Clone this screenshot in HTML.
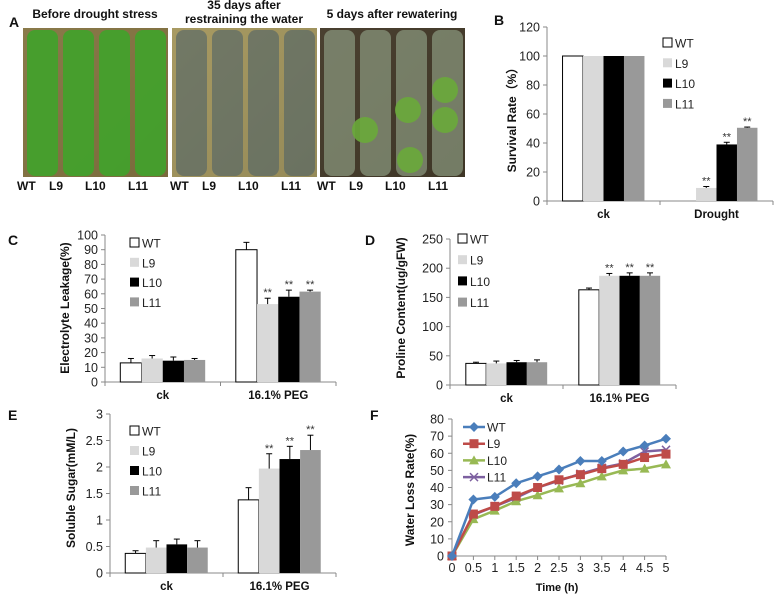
<!DOCTYPE html>
<html><head><meta charset="utf-8"><style>
body{margin:0;background:#fff;}
svg{display:block;font-family:"Liberation Sans",Arial,sans-serif;}
</style></head><body>
<svg id="fig" width="777" height="597" viewBox="0 0 777 597">
<defs>
<linearGradient id="p1" x1="0" y1="0" x2="1" y2="1"><stop offset="0" stop-color="#8a7a4a"/><stop offset="1" stop-color="#7a6a3c"/></linearGradient>
<linearGradient id="p2" x1="0" y1="0" x2="1" y2="1"><stop offset="0" stop-color="#a89a62"/><stop offset="1" stop-color="#958a58"/></linearGradient>
<linearGradient id="p3" x1="0" y1="0" x2="1" y2="1"><stop offset="0" stop-color="#4a4030"/><stop offset="1" stop-color="#3e3626"/></linearGradient>
</defs>
<g id="panelA"></g>
<g id="panelB"></g>
<g id="panelC"></g>
<g id="panelD"></g>
<g id="panelE"></g>
<g id="panelF"></g>
</svg>
<script>
const lines=["WT","L9","L10","L11"];
const barColors=["#ffffff","#d9d9d9","#000000","#999999"];
// B
const bCats=["ck","Drought"];
const bVals=[[100,100,100,100],[0,9,39,50.5]];
const bErr=[[0,0,0,0],[0,1,1.5,0.5]];
const bSig=[[false,false,false,false],[false,true,true,true]];
const bTicks=[0,20,40,60,80,100,120];
// C
const cCats=["ck","16.1% PEG"];
const cVals=[[13,16,14.5,15],[90,53,58,61.5]];
const cErr=[[3,2,2.5,1],[5,4,4.5,1]];
const cSig=[[false,false,false,false],[false,true,true,true]];
const cTicks=[0,10,20,30,40,50,60,70,80,90,100];
// D
const dCats=["ck","16.1% PEG"];
const dVals=[[37,37,39,39],[163,187,187,187]];
const dErr=[[2,4,3,4],[3,4,5,5]];
const dSig=[[false,false,false,false],[false,true,true,true]];
const dTicks=[0,50,100,150,200,250];
// E
const eCats=["ck","16.1% PEG"];
const eVals=[[0.37,0.48,0.54,0.48],[1.38,1.97,2.15,2.32]];
const eErr=[[0.05,0.13,0.1,0.13],[0.23,0.28,0.24,0.28]];
const eSig=[[false,false,false,false],[false,true,true,true]];
const eTicks=[0,0.5,1,1.5,2,2.5,3];
const eTickLabels=["0","0.5","1","1.5","2","2.5","3"];
// F
const fTimes=[0,0.5,1,1.5,2,2.5,3,3.5,4,4.5,5];
const fWT=[0,33,34.5,42.5,46.5,50.5,55.5,55.5,61,64.5,68.5];
const fL9=[0,24.5,29,35,40,44.5,47.5,51,53.5,57.5,59.5];
const fL10=[0,21.5,26.5,32,35.5,39.5,42.5,46.5,50,51,53.5];
const fL11=[0,24,29,34,40,44,48,51.5,54,61,62];
const fTicks=[0,10,20,30,40,50,60,70,80];

const NS="http://www.w3.org/2000/svg";
function mk(parent,tag,attrs,text){const e=document.createElementNS(NS,tag);for(const k in attrs)e.setAttribute(k,attrs[k]);if(text!==undefined)e.textContent=text;parent.appendChild(e);return e;}

function barChart(g,o){
  const ys=v=>o.y0-(v-o.min)/(o.max-o.min)*(o.y0-o.y1);
  const catW=(o.x1-o.x0)/o.cats.length;
  const xc=i=>o.x0+catW*(i+0.5);
  const ax=mk(g,'line',{x1:o.x0,y1:o.y0,x2:o.x0,y2:o.y1,stroke:'#888','stroke-width':1});
  
  const bx=mk(g,'line',{x1:o.x0,y1:o.y0,x2:o.x1,y2:o.y0,stroke:'#888','stroke-width':1});
  
  for(let i=0;i<=o.cats.length;i++){const t=mk(g,'line',{x1:o.x0+catW*i,y1:o.y0,x2:o.x0+catW*i,y2:o.y0+4,stroke:'#888'});}
  o.ticks.forEach((v,i)=>{
    mk(g,'line',{x1:o.x0-4,y1:ys(v),x2:o.x0,y2:ys(v),stroke:'#888'});
    const t=mk(g,'text',{x:o.x0-7,y:ys(v)+4.5,'text-anchor':'end','font-size':12.5,fill:'#222'},o.tickLabels?o.tickLabels[i]:String(v));
    
  });
  const bw=catW*o.frac/4;
  o.cats.forEach((c,ci)=>{
    const l=mk(g,'text',{x:xc(ci),y:o.y0+o.catDy,'text-anchor':'middle','font-size':11.5,'font-weight':'bold',fill:'#111'},c);
    
    for(let s=0;s<4;s++){
      const v=o.vals[ci][s];const x=xc(ci)-2*bw+s*bw;
      if(v<=0)continue;
      const r=mk(g,'rect',{x:x,y:ys(v),width:bw,height:o.y0-ys(v),fill:barColors[s],stroke:s==0?'#000':'none','stroke-width':1});
      
      const e=o.err[ci][s];const ex=x+bw/2;
      if(e>0){mk(g,'line',{x1:ex,y1:ys(v),x2:ex,y2:ys(v+e),stroke:'#000'});mk(g,'line',{x1:ex-3,y1:ys(v+e),x2:ex+3,y2:ys(v+e),stroke:'#000'});}
      if(o.sig[ci][s]){const st=mk(g,'text',{x:ex,y:ys(v+e)-2,'text-anchor':'middle','font-size':11,fill:'#333'},'**');}
    }
  });
  lines.forEach((n,i)=>{
    const y=o.legY+i*o.legStep;
    const r=mk(g,'rect',{x:o.legX,y:y-5,width:9,height:9,fill:barColors[i],stroke:i==0?'#000':'none'});
    
    const t=mk(g,'text',{x:o.legX+12,y:y+4.5,'font-size':12,fill:'#222'},n);
    
  });
  const yl=mk(g,'text',{x:o.ylx,y:o.yly,'text-anchor':'middle','font-size':12,'font-weight':'bold',fill:'#111',transform:`rotate(-90 ${o.ylx} ${o.yly})`},o.ylabel);
  
  const pl=mk(g,'text',{x:o.px,y:o.py,'font-size':14,'font-weight':'bold',fill:'#111'},o.letter);
  
}

barChart(document.getElementById('panelB'),{x0:547,x1:773,y0:201,y1:27,min:0,max:120,cats:bCats,vals:bVals,err:bErr,sig:bSig,ticks:bTicks,frac:0.725,catDy:17,legX:663,legY:43,legStep:20.3,ylx:516,yly:117,ylabel:"Survival Rate（%）",px:494,py:25,letter:"B"});
barChart(document.getElementById('panelC'),{x0:105,x1:336,y0:382,y1:235,min:0,max:100,cats:cCats,vals:cVals,err:cErr,sig:cSig,ticks:cTicks,frac:0.735,catDy:17,legX:130,legY:243,legStep:19.8,ylx:69,yly:308,ylabel:"Electrolyte Leakage(%)",px:8,py:245,letter:"C"});
barChart(document.getElementById('panelD'),{x0:450,x1:676,y0:385,y1:239,min:0,max:250,cats:dCats,vals:dVals,err:dErr,sig:dSig,ticks:dTicks,frac:0.72,catDy:17,legX:458,legY:239,legStep:21.2,ylx:405,yly:308,ylabel:"Proline Content(ug/gFW)",px:365,py:245,letter:"D"});
barChart(document.getElementById('panelE'),{x0:110,x1:336,y0:573,y1:414,min:0,max:3,cats:eCats,vals:eVals,err:eErr,sig:eSig,ticks:eTicks,tickLabels:eTickLabels,frac:0.73,catDy:17,legX:130,legY:431,legStep:20,ylx:75,yly:488,ylabel:"Soluble Sugar(mM/L)",px:8,py:420,letter:"E"});

// Panel F
(function(){
  const g=document.getElementById('panelF');
  const x0=452,x5=666,y0=556,y80=419;
  const xs=t=>x0+t/5*(x5-x0);
  const ys=v=>y0-v/80*(y0-y80);
  mk(g,'line',{x1:x0,y1:y0,x2:x0,y2:y80,stroke:'#888'});
  mk(g,'line',{x1:x0,y1:y0,x2:x5,y2:y0,stroke:'#888'});
  fTicks.forEach(v=>{mk(g,'line',{x1:x0-4,y1:ys(v),x2:x0,y2:ys(v),stroke:'#888'});const t=mk(g,'text',{x:x0-8,y:ys(v)+4.5,'text-anchor':'end','font-size':12.5,fill:'#222'},String(v));});
  fTimes.forEach(v=>{mk(g,'line',{x1:xs(v),y1:y0,x2:xs(v),y2:y0+4,stroke:'#888'});const t=mk(g,'text',{x:xs(v),y:y0+16,'text-anchor':'middle','font-size':12.5,fill:'#222'},String(v));});
  const series=[[fWT,'#4a7ebb','diamond','WT'],[fL9,'#be4b48','square','L9'],[fL10,'#98b954','triangle','L10'],[fL11,'#7d60a0','x','L11']];
  function marker(p,x,y,type,col){
    let m;
    if(type=='diamond')m=mk(p,'polygon',{points:`${x},${y-5} ${x+5},${y} ${x},${y+5} ${x-5},${y}`,fill:col});
    else if(type=='square')m=mk(p,'rect',{x:x-4.5,y:y-4.5,width:9,height:9,fill:col});
    else if(type=='triangle')m=mk(p,'polygon',{points:`${x},${y-5} ${x+5},${y+4} ${x-5},${y+4}`,fill:col});
    else {m=mk(p,'path',{d:`M${x-4},${y-4}L${x+4},${y+4}M${x-4},${y+4}L${x+4},${y-4}`,stroke:col,'stroke-width':1.5});}
    return m;
  }
  series.slice().reverse().forEach(([d,col,type,name])=>{
    const pts=fTimes.map((t,i)=>xs(t)+','+ys(d[i])).join(' ');
    const pl=mk(g,'polyline',{points:pts,fill:'none',stroke:col,'stroke-width':2.5});
    
    fTimes.forEach((t,i)=>{const m=marker(g,xs(t),ys(d[i]),type,col);});
  });
  series.forEach(([d,col,type,name],i)=>{
    const y=427+i*16.7;
    mk(g,'line',{x1:463,y1:y,x2:485,y2:y,stroke:col,'stroke-width':2.5});
    marker(g,474,y,type,col);
    const t=mk(g,'text',{x:487,y:y+4.5,'font-size':12,fill:'#222'},name);
    
  });
  const yl=mk(g,'text',{x:414,y:490,'text-anchor':'middle','font-size':12,'font-weight':'bold',fill:'#111',transform:'rotate(-90 414 490)'},'Water Loss Rate(%)');
  
  const xl=mk(g,'text',{x:557,y:591,'text-anchor':'middle','font-size':11,'font-weight':'bold',fill:'#111'},'Time (h)');
  
  const pl=mk(g,'text',{x:370,y:420,'font-size':14,'font-weight':'bold',fill:'#111'},'F');
  
})();

// Panel A photos
(function(){
  const g=document.getElementById('panelA');
  const pl=mk(g,'text',{x:9,y:27,'font-size':14,'font-weight':'bold',fill:'#111'},'A');
  
  const photos=[[23,'url(#p1)','#43a02c','Before drought stress',0.95],[172,'url(#p2)','#4f6268','35 days after|restraining the water',0.6],[320,'url(#p3)','#8c9a80','5 days after rewatering',0.7]];
  const labs=[["WT",-6],["L9",26],["L10",62],["L11",105]];
  photos.forEach(([x,fill,plant,title,op],pi)=>{
    const r=mk(g,'rect',{x:x,y:28,width:145,height:149,fill:fill});
    
    for(let c=0;c<4;c++){
      const cx=x+19+c*36;
      mk(g,'rect',{x:cx-15,y:30,width:31,height:146,rx:8,fill:plant,opacity:op});
    }
    if(pi==2){[[x+45,130],[x+88,110],[x+125,120],[x+90,160],[x+125,90]].forEach(([a,b])=>mk(g,'circle',{cx:a,cy:b,r:13,fill:'#6aaa3a',opacity:0.9}));}
    const parts=title.split('|');
    parts.forEach((p,k)=>{const t=mk(g,'text',{x:x+72,y:(parts.length==2?9+k*14:18),'text-anchor':'middle','font-size':12,'font-weight':'bold',fill:'#111'},p);});
    labs.forEach(([n,dx])=>{const t=mk(g,'text',{x:x+dx+(pi==0?0:pi==1?4:3),y:190,'font-size':12,'font-weight':'bold',fill:'#111'},n);});
  });
})();
</script>
</body></html>
